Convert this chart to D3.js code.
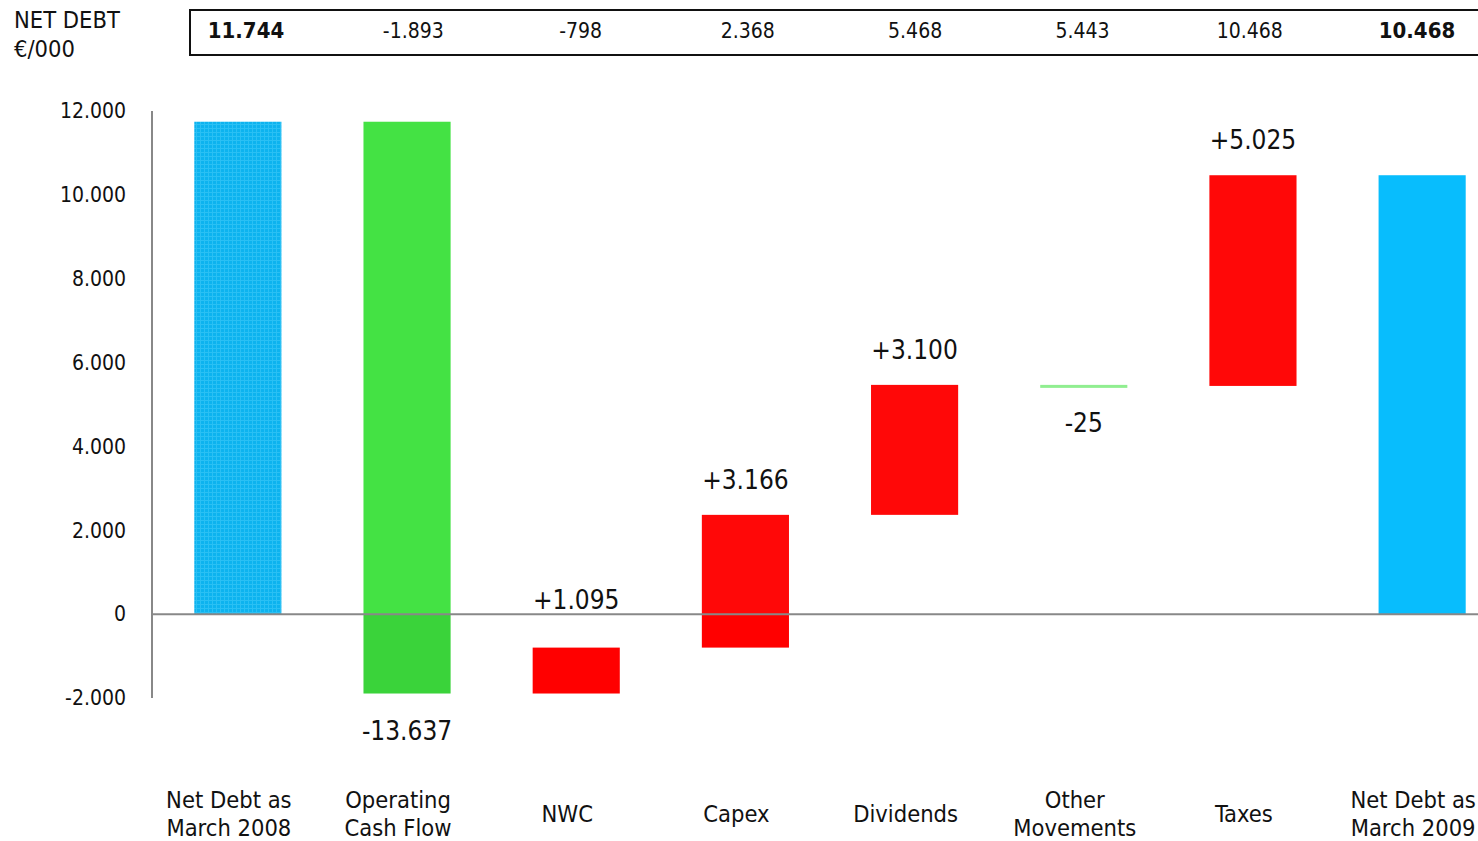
<!DOCTYPE html>
<html>
<head>
<meta charset="utf-8">
<script src="https://cdn.jsdelivr.net/npm/d3@7"></script>
<style>
  html, body { margin: 0; padding: 0; background: #fff; overflow: hidden; }
  text { font-family: "DejaVu Sans Condensed", "DejaVu Sans", sans-serif; fill: #111; }
</style>
</head>
<body>
<div id="chart"></div>
<script>
// categories and values
var categories = ['Net Debt as\nMarch 2008', 'Operating\nCash Flow', 'NWC', 'Capex',
  'Dividends', 'Other\nMovements', 'Taxes', 'Net Debt as\nMarch 2009'];
var kinds = ['total', 'delta', 'delta', 'delta', 'delta', 'delta', 'delta', 'total'];
var deltas = [11744, -13637, 1095, 3166, 3100, -25, 5025, 0];
var headerValues = ['11.744', '-1.893', '-798', '2.368', '5.468', '5.443', '10.468', '10.468'];
var headerBold = [true, false, false, false, false, false, false, true];
var deltaLabels = ['', '-13.637', '+1.095', '+3.166', '+3.100', '-25', '+5.025', ''];
var colorsAbove = ['url(#dots)', '#44e244', '#ff0808', '#ff0808', '#ff0808', '#90ee90', '#ff0808', '#08bdfd'];
var colorsBelow = ['url(#dots)', '#3ad33a', '#ff0000', '#ff0000', '#ff0000', '#90ee90', '#ff0000', '#08bdfd'];
var yTicks = [-2000, 0, 2000, 4000, 6000, 8000, 10000, 12000];

window.onload = function () {
	var width = 1478, height = 841;
	var svg = d3.select('#chart').append('svg')
		.attr('width', width)
		.attr('height', height);

	// dotted fill of the first bar
	var pat = svg.append('defs').append('pattern')
		.attr('id', 'dots')
		.attr('patternUnits', 'userSpaceOnUse')
		.attr('width', 4).attr('height', 4);
	pat.append('rect').attr('width', 4).attr('height', 4).attr('fill', '#0db3ef');
	pat.append('rect').attr('width', 1).attr('height', 4).attr('fill', '#2ac0f4');
	pat.append('rect').attr('width', 4).attr('height', 1).attr('fill', '#2ac0f4');

	// running totals
	var bars = [], run = 0;
	categories.forEach(function (c, i) {
		var from, to;
		if (kinds[i] == 'total') {
			if (i > 0) { from = 0; to = run; }
			else { from = 0; to = deltas[i]; run = deltas[i]; }
		} else {
			from = run; to = run + deltas[i]; run = to;
		}
		bars.push({ cat: c, i: i, from: from, to: to });
	});

	var x = d3.scaleBand().domain(categories).range([152, 1508]).paddingInner(0.485).paddingOuter(0.25);
	var y = d3.scaleLinear().domain([-2000, 12000]).range([698, 111]);

	// header row
	svg.append('text').attr('x', 14).attr('y', 28).style('font-size', '23.5px').text('NET DEBT');
	svg.append('text').attr('x', 14).attr('y', 57).style('font-size', '23.5px').text('€/000');
	svg.append('rect')
		.attr('x', 190).attr('y', 10)
		.attr('width', 1300).attr('height', 45)
		.attr('fill', 'none').attr('stroke', '#111').attr('stroke-width', 2);
	var hx = d3.scalePoint().domain(categories).range([246, 1417]);
	svg.append('g').selectAll('text')
		.data(headerValues)
		.enter().append('text')
		.attr('x', function (d, i) { return hx(categories[i]); })
		.attr('y', 38)
		.attr('text-anchor', 'middle')
		.style('font-size', function (d, i) { return headerBold[i] ? '22px' : '21px'; })
		.style('font-weight', function (d, i) { return headerBold[i] ? 'bold' : 'normal'; })
		.text(function (d) { return d; });

	// bars split at zero
	var g = svg.append('g');
	bars.forEach(function (b) {
		var lo = Math.min(b.from, b.to), hi = Math.max(b.from, b.to);
		var parts = [];
		if (hi > 0) parts.push({ a: Math.max(lo, 0), b: hi, fill: colorsAbove[b.i] });
		if (lo < 0) parts.push({ a: lo, b: Math.min(hi, 0), fill: colorsBelow[b.i] });
		parts.forEach(function (p) {
			var h = Math.max(y(p.a) - y(p.b), 3);
			g.append('rect')
				.attr('x', x(b.cat))
				.attr('y', y(p.b))
				.attr('width', x.bandwidth())
				.attr('height', h)
				.attr('fill', p.fill);
		});
	});

	// axis + zero line
	svg.append('line')
		.attr('x1', 152).attr('x2', 152)
		.attr('y1', y(12000)).attr('y2', y(-2000))
		.attr('stroke', '#888').attr('stroke-width', 2);
	svg.append('line')
		.attr('x1', 152).attr('x2', width)
		.attr('y1', y(0)).attr('y2', y(0))
		.attr('stroke', '#888').attr('stroke-width', 2);

	var fmt = function (v) { return v == 0 ? '0' : (v / 1000).toFixed(3); };
	svg.append('g').selectAll('text')
		.data(yTicks)
		.enter().append('text')
		.attr('x', 126)
		.attr('y', function (d) { return y(d); })
		.attr('dy', '0.35em')
		.attr('text-anchor', 'end')
		.style('font-size', '21px')
		.text(fmt);

	// delta labels
	svg.append('g').selectAll('text')
		.data(bars.filter(function (b) { return deltaLabels[b.i] != ''; }))
		.enter().append('text')
		.attr('x', function (b) { return x(b.cat) + x.bandwidth() / 2; })
		.attr('y', function (b) {
			if (b.to > b.from) return y(b.to) > y(0) ? y(0) - 5 : y(b.to) - 26;
			return y(b.to) + 46;
		})
		.attr('text-anchor', 'middle')
		.style('font-size', '26px')
		.text(function (b) { return deltaLabels[b.i]; });

	// category labels
	var cl = svg.append('g').selectAll('text')
		.data(categories)
		.enter().append('text')
		.attr('text-anchor', 'middle')
		.style('font-size', '23.5px');
	cl.each(function (c) {
		var lines = c.split('\n');
		var t = d3.select(this);
		var cx = x(c) + x.bandwidth() / 2 - 9;
		var y0 = lines.length > 1 ? 808 : 822;
		lines.forEach(function (ln, k) {
			t.append('tspan').attr('x', cx).attr('y', y0 + k * 28).text(ln);
		});
	});
};
</script>
</body>
</html>
